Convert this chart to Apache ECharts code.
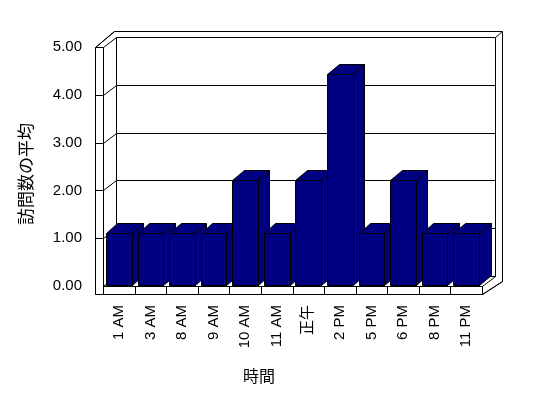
<!DOCTYPE html>
<html>
<head>
<meta charset="utf-8">
<script src="https://cdn.jsdelivr.net/npm/echarts@6/dist/echarts.min.js"></script>
<style>
  html,body{margin:0;padding:0;background:#fff;}
  #main{width:548px;height:398px;}
</style>
</head>
<body>
<div id="main"></div>
<script>
// データ
var categories = ['1 AM','3 AM','8 AM','9 AM','10 AM','11 AM','正午','2 PM','5 PM','6 PM','8 PM','11 PM'];
var values = [1.11,1.11,1.11,1.11,2.22,1.11,2.22,4.44,1.11,2.22,1.11,1.11];
var yTicks = [0,1,2,3,4,5];
var xName = '時間';
var yName = '訪問数の平均';

var FONT = '"Liberation Sans", "Noto Sans CJK JP", sans-serif';
var DX = 12.5, DY = -10;      // 奥行き
var WALL = 8.5, FLOOR = 7.5;  // 壁の厚さ

// 1px 線をくっきりさせる
function p(v) { return Math.round(v) + 0.5; }
function pts(a) { return a.map(function (q) { return [p(q[0]), p(q[1])]; }); }

var Mychart = echarts.init(document.getElementById('main'));

// 壁と床
function renderFrame(params, api) {
    var band = api.size([1, 0])[0];
    var x0 = api.coord([0, 0])[0] - band / 2;
    var x1 = x0 + band * categories.length;
    var yb = api.coord([0, yTicks[0]])[1];
    var yt = api.coord([0, yTicks[yTicks.length - 1]])[1];
    var ln = {stroke:'#000', lineWidth:1, fill:null};
    var wh = {stroke:'#000', lineWidth:1, fill:'#fff'};
    var ch = [];
    function poly(a, s) { ch.push({type:'polygon', shape:{points:pts(a)}, style:s || wh}); }
    function line(ax, ay, bx, by) { ch.push({type:'line', shape:{x1:p(ax), y1:p(ay), x2:p(bx), y2:p(by)}, style:ln}); }
    // 外形
    poly([[x0 - WALL, yt], [x0 + DX - 2, yt + DY - 5.7], [x1 + DX + 7, yt + DY - 5.7],
          [x1 + DX + 7, yb + DY + 4.5], [x1, yb + FLOOR], [x0 - WALL, yb + FLOOR]]);
    // 奥の壁
    poly([[x0 + DX, yt + DY], [x1 + DX, yt + DY], [x1 + DX, yb + DY], [x0 + DX, yb + DY]]);
    line(x1 + DX, yt + DY, x1 + DX + 7, yt + DY - 5.7);
    line(x0 - WALL, yt, x0 + DX - 2, yt + DY - 5.7);
    // 左の壁
    poly([[x0, yt], [x0 + DX, yt + DY], [x0 + DX, yb + DY], [x0, yb]]);
    poly([[x0 - WALL, yt], [x0, yt], [x0, yb + FLOOR], [x0 - WALL, yb + FLOOR]]);
    // 床
    poly([[x0, yb], [x1, yb], [x1 + DX, yb + DY], [x0 + DX, yb + DY]]);
    poly([[x0, yb], [x1, yb], [x1, yb + FLOOR], [x0, yb + FLOOR]]);
    line(x1, yb + FLOOR, x1 + DX + 7, yb + DY + 4.5);
    // 目盛線
    for (var i = 1; i < yTicks.length - 1; i++) {
        var y = api.coord([0, yTicks[i]])[1];
        line(x0 + DX, y + DY, x1 + DX, y + DY);
        line(x0, y, x0 + DX, y + DY);
        line(x0 - WALL, y, x0, y);
    }
    for (var j = 1; j < categories.length; j++) {
        var x = x0 + band * j;
        line(x, yb, x, yb + FLOOR);
    }
    return {type:'group', children:ch};
}

// 3D 棒
function renderBar(params, api) {
    var band = api.size([1, 0])[0];
    var w = band * 0.815;
    var top = api.coord([api.value(0), api.value(1)]);
    var bot = api.coord([api.value(0), 0]);
    var xl = top[0] - w / 2, xr = top[0] + w / 2;
    var yt = top[1], yb = bot[1] - 1;
    var dx = 11.5, dy = -10;
    var st = {fill:'#000080', stroke:'#000', lineWidth:1};
    return {type:'group', children:[
        {type:'polygon', shape:{points:pts([[xr, yt], [xr + dx, yt + dy], [xr + dx, yb + dy], [xr, yb]])}, style:st},
        {type:'polygon', shape:{points:pts([[xl, yt], [xl + dx, yt + dy], [xr + dx, yt + dy], [xr, yt]])}, style:st},
        {type:'polygon', shape:{points:pts([[xl, yt], [xr, yt], [xr, yb], [xl, yb]])}, style:st}
    ]};
}

var barData = values.map(function (v, i) { return [i, v]; });

var option = {
    backgroundColor:'#fff',
    animation:false,
    grid:{left:103, right:66, top:47, bottom:112},
    xAxis:{
        type:'category',
        data:categories,
        axisLine:{show:false},
        axisTick:{show:false},
        axisLabel:{rotate:90, margin:19, color:'#000', fontSize:15, fontFamily:FONT, interval:0}
    },
    yAxis:{
        type:'value',
        min:yTicks[0], max:yTicks[yTicks.length - 1], interval:1,
        axisLine:{show:false},
        axisTick:{show:false},
        splitLine:{show:false},
        axisLabel:{margin:21, color:'#000', fontSize:15, fontFamily:FONT,
            formatter:function (v) { return v.toFixed(2); }}
    },
    graphic:[
        {type:'text', x:259, y:378, style:{text:xName, fill:'#000', font:'16px ' + FONT, align:'center', verticalAlign:'middle'}},
        {type:'text', x:27, y:174, rotation:Math.PI / 2, style:{text:yName, fill:'#000', font:'17px ' + FONT, align:'center', verticalAlign:'middle'}}
    ],
    series:[
        {type:'custom', z:1, silent:true, clip:false, data:[[0, 0]], renderItem:renderFrame},
        {type:'custom', z:2, clip:false, data:barData, renderItem:renderBar, encode:{x:0, y:1}}
    ]
};
Mychart.setOption(option);
</script>
</body>
</html>
